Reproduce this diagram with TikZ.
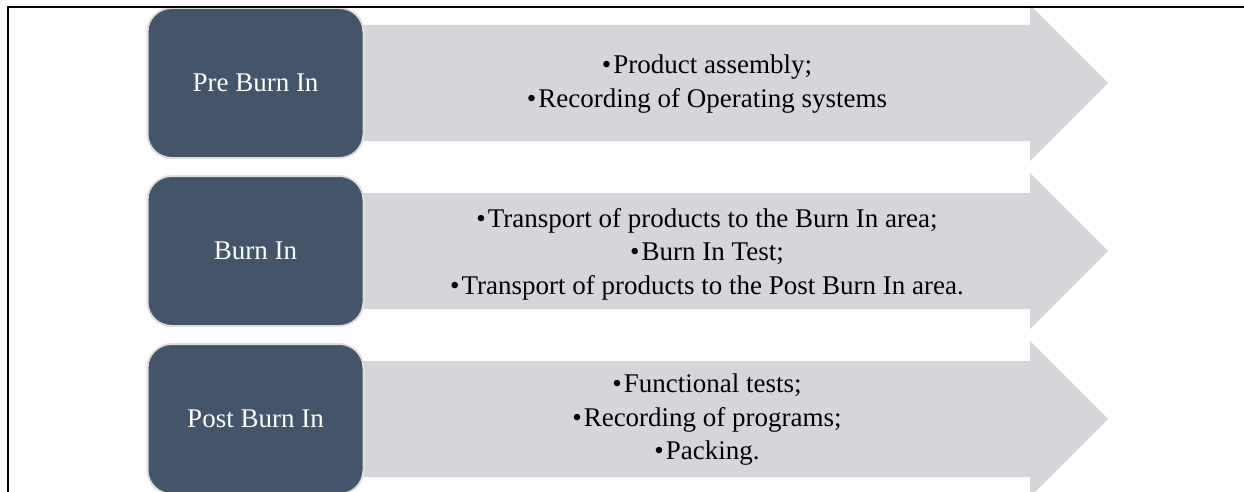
\documentclass[tikz,border=0pt]{standalone}
\usepackage{fontspec}
\setmainfont{Liberation Serif}
\usetikzlibrary{positioning}

\definecolor{slate}{HTML}{44546A}
\definecolor{arrowgray}{HTML}{D5D6DA}
\definecolor{rimgray}{HTML}{DEDEDE}

\newcommand{\bul}{\textbullet\hspace{2pt}}

\begin{document}
\begin{tikzpicture}[x=1pt, y=-1pt,
    stage/.style={fill=slate, draw=rimgray, line width=2pt, rounded corners=24pt,
      minimum width=216pt, minimum height=150pt, text=white,
      font=\fontsize{27}{33}\selectfont},
    tasks/.style={align=center, font=\fontsize{27}{33.5}\selectfont}]
  \useasboundingbox (0,0) rectangle (1244,492);

  % Pfeile (hinter den Kästen)
  \fill[arrowgray] (350,25) -- (1030,25) -- (1030,5) -- (1108,83)
    -- (1030,161) -- (1030,141) -- (350,141) -- cycle;
  \fill[arrowgray] (350,193) -- (1030,193) -- (1030,173) -- (1108,251)
    -- (1030,329) -- (1030,309) -- (350,309) -- cycle;
  \fill[arrowgray] (350,361) -- (1030,361) -- (1030,341) -- (1108,419)
    -- (1030,497) -- (1030,477) -- (350,477) -- cycle;

  % Phasen
  \node[stage] (pre) at (255.5,83) {Pre Burn In};
  \node[stage] (burn) at (255.5,251) {Burn In};
  \node[stage] (post) at (255.5,419) {Post Burn In};

  % Tätigkeiten
  \node[tasks] (pretasks) at (707,84)
    {\bul Product assembly;\\ \bul Recording of Operating systems};
  \node[tasks] (burntasks) at (707,254)
    {\bul Transport of products to the Burn In area;\\
     \bul Burn In Test;\\
     \bul Transport of products to the Post Burn In area.};
  \node[tasks] (posttasks) at (707,420)
    {\bul Functional tests;\\ \bul Recording of programs;\\
     \bul Packing.};

  % Rahmen
  \draw[line width=2pt] (7.5,492) -- (7.5,7.5) -- (1244,7.5);
\end{tikzpicture}
\end{document}
